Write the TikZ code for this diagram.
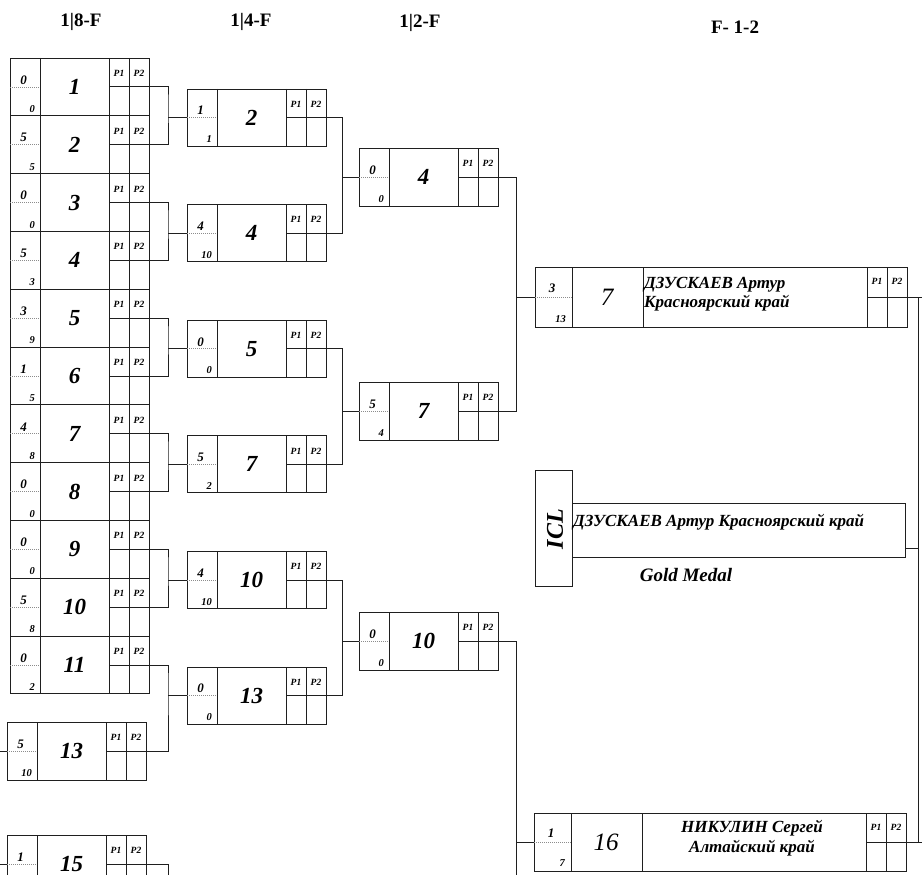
\documentclass[tikz,border=0pt]{standalone}
\usepackage{fontspec}
\setmainfont{Liberation Serif}
\usepackage{tikz}
\usetikzlibrary{calc}
\definecolor{brk-ink}{HTML}{1F1F1F}
\definecolor{brk-dot}{HTML}{8C8C8C}

\begin{document}
\begin{tikzpicture}[x=1pt,y=-1pt,
  cell/.style={draw=brk-ink,line width=0.8pt},
  link/.style={draw=brk-ink,line width=0.8pt},
  sep/.style={draw=brk-dot,line width=0.6pt,dash pattern=on 1pt off 1pt},
  head/.style={font=\bfseries\fontsize{19}{21}\selectfont,inner sep=0pt},
  num/.style={font=\bfseries\itshape\fontsize{23}{25}\selectfont,inner sep=0pt},
  fnum/.style={font=\itshape\fontsize{25}{27}\selectfont,inner sep=0pt},
  sctop/.style={font=\bfseries\itshape\fontsize{13}{14}\selectfont,inner sep=0pt},
  scbot/.style={font=\bfseries\itshape\fontsize{10.5}{11}\selectfont,inner sep=0pt},
  ptag/.style={font=\bfseries\itshape\fontsize{9.5}{10}\selectfont,inner sep=0pt},
  fname/.style={font=\bfseries\itshape\fontsize{17}{19.5}\selectfont,inner sep=0pt}]
  \useasboundingbox (0,0) rectangle (922,875);
  \clip (0,0) rectangle (922,875);
  \coordinate (west) at (0,0);
  \coordinate (east) at (922,0);
  \coordinate (low) at (0,875);
  \coordinate (rj) at (918,0);

  % Round headers
  \node[head] (h8) at (81,22) {1|8-F};
  \node[head] (h4) at (251,22) {1|4-F};
  \node[head] (h2) at (420,23) {1|2-F};
  \node[head] (hf) at (735,27) {F- 1-2};

  % Match boxes: score | number | P1 P2
  \foreach \id/\x/\t/\h/\a/\b/\n in {
    e1/10/58/57.8/0/0/1, e2/10/115.8/57.8/5/5/2, e3/10/173.6/57.8/0/0/3,
    e4/10/231.4/57.8/5/3/4, e5/10/289.2/57.8/3/9/5, e6/10/347/57.8/1/5/6,
    e7/10/404.8/57.8/4/8/7, e8/10/462.6/57.8/0/0/8, e9/10/520.4/57.8/0/0/9,
    e10/10/578.2/57.8/5/8/10, e11/10/636/57.8/0/2/11,
    e13/7/722/58/5/10/13, e15/7/835/58/1//15,
    q2/187/89/57/1/1/2, q4/187/204.6/57/4/10/4, q5/187/320.2/57/0/0/5,
    q7/187/435.8/57/5/2/7, q10/187/551.4/57/4/10/10, q13/187/667/57/0/0/13,
    s4/359/148/58/0/0/4, s7/359/382/58/5/4/7, s10/359/612/58/0/0/10} {
    \draw[cell] (\x,\t) rectangle ++(139,\h);
    \draw[cell] (\x+30,\t) -- ++(0,\h) (\x+99,\t) -- ++(0,\h)
      (\x+119,\t) -- ++(0,\h) (\x+99,\t+\h/2) -- ++(40,0);
    \draw[sep] (\x,\t+\h/2) -- ++(30,0);
    \node[sctop] (\id a) at (\x+13.5,\t+\h*0.38) {\a};
    \node[scbot,anchor=south east] (\id b) at (\x+25,\t+\h-3) {\b};
    \node[num] (\id n) at (\x+64.5,\t+\h/2) {\n};
    \node[ptag] (\id p) at (\x+109,\t+\h/4+1) {P1};
    \node[ptag] (\id q) at (\x+129,\t+\h/4+1) {P2};
    \coordinate (\id o) at (\x+139,\t+\h/2);
    \coordinate (\id i) at (\x,\t+\h/2);
  }

  % Final boxes
  \foreach \id/\x/\t/\h/\a/\b/\n in {f7/535/267/60/3/13/7, f16/534/813/58/1/7/16} {
    \draw[cell] (\x,\t) rectangle ++(372,\h);
    \draw[cell] (\x+37,\t) -- ++(0,\h) (\x+108,\t) -- ++(0,\h)
      (\x+332,\t) -- ++(0,\h) (\x+352,\t) -- ++(0,\h)
      (\x+332,\t+\h/2) -- ++(40,0);
    \draw[sep] (\x,\t+\h/2) -- ++(37,0);
    \node[sctop] (\id a) at (\x+17,\t+\h*0.35) {\a};
    \node[scbot,anchor=south east] (\id b) at (\x+31,\t+\h-4) {\b};
    \node[fnum] (\id n) at (\x+72,\t+\h/2) {\n};
    \node[ptag] (\id p) at (\x+342,\t+14) {P1};
    \node[ptag] (\id q) at (\x+362,\t+14) {P2};
    \coordinate (\id o) at (\x+372,\t+\h/2);
    \coordinate (\id i) at (\x,\t+\h/2);
  }
  \node[fname,anchor=north west,align=left] (f7name) at (644,277)
    {ДЗУСКАЕВ Артур\\Красноярский край};
  \node[fname,align=center] (f16name) at (752,838)
    {НИКУЛИН Сергей\\Алтайский край};

  % Champion
  \draw[cell] (535,470) rectangle (572,586);
  \node[font=\bfseries\itshape\fontsize{24}{26}\selectfont,rotate=90,inner sep=0pt] (icl) at (555,529) {ICL};
  \draw[cell] (572,503) rectangle (905,557);
  \node[fname,font=\bfseries\itshape\fontsize{17}{19}\selectfont,anchor=west] (champ) at (573,522)
    {ДЗУСКАЕВ Артур Красноярский край};
  \node[fname,font=\bfseries\itshape\fontsize{19}{21}\selectfont] (gold) at (686,575) {Gold Medal};
  \coordinate (champo) at (905,548);

  % Bracket lines
  \foreach \a/\b/\c in {e1/e2/q2, e3/e4/q4, e5/e6/q5, e7/e8/q7, e9/e10/q10,
    e11/e13/q13, q2/q4/s4, q5/q7/s7, q10/q13/s10, s4/s7/f7} {
    \path (\a o) -- (\c i) coordinate[pos=.5] (m\c);
    \draw[link] (\a o) -| (m\c) |- (\b o);
    \draw[link] (m\c |- \c i) -- (\c i);
  }
  \draw[link] (e15o) -| (mq13 |- low);
  \path (s10o) -- (f16i) coordinate[pos=.5] (mf16);
  \draw[link] (s10o) -| (mf16 |- low);
  \draw[link] (mf16 |- f16i) -- (f16i);
  \draw[link] (e13i) -- (e13i -| west);
  \draw[link] (e15i) -- (e15i -| west);

  % Right edge
  \draw[link] (f7o) -- (f7o -| east);
  \draw[link] (f16o) -- (f16o -| east);
  \draw[link] (rj |- f7o) -- (rj |- f16o);
  \draw[link] (champo) -- (rj |- champo);
\end{tikzpicture}
\end{document}
